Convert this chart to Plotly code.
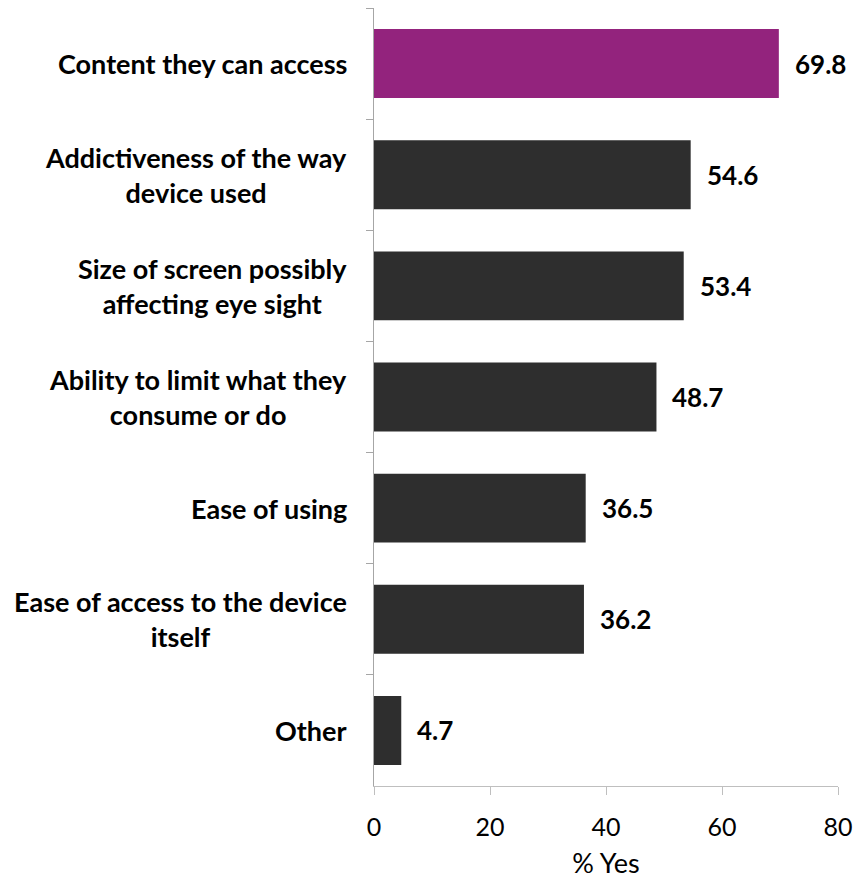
import plotly.graph_objects as go

categories = [
    "Content they can access",
    "Addictiveness of the way<br>device used",
    "Size of screen possibly<br>affecting eye sight",
    "Ability to limit what they<br>consume or do",
    "Ease of using",
    "Ease of access to the device<br>itself",
    "Other",
]
values = [69.8, 54.6, 53.4, 48.7, 36.5, 36.2, 4.7]
bar_colors = ["#93237D", "#2E2E2E", "#2E2E2E", "#2E2E2E", "#2E2E2E", "#2E2E2E", "#2E2E2E"]
x_ticks = [0, 20, 40, 60, 80]
x_title = "% Yes"

FONT = "Lato, 'Open Sans', sans-serif"

fig = go.Figure()
fig.add_trace(go.Bar(
    y=categories,
    x=values,
    orientation="h",
    marker=dict(color=bar_colors, line=dict(width=0)),
    hoverinfo="skip",
))

annotations = []
for c, v in zip(categories, values):
    annotations.append(dict(
        x=0, xref="paper", y=c, yref="y", text=f"<b>{c}</b>",
        xanchor="right", yanchor="middle", align="center", xshift=-25,
        showarrow=False, font=dict(family=FONT, size=27, color="#000000"),
    ))
    annotations.append(dict(
        x=v, xref="x", y=c, yref="y", text=f"<b>{v}</b>",
        xanchor="left", yanchor="middle", xshift=14,
        showarrow=False, font=dict(family=FONT, size=26, color="#000000"),
    ))

fig.update_layout(
    width=855, height=882,
    margin=dict(l=374, r=17, t=8, b=96),
    paper_bgcolor="white", plot_bgcolor="white",
    showlegend=False,
    bargap=0.38,
    annotations=annotations,
    font=dict(family=FONT, color="#000000"),
)
fig.update_xaxes(
    range=[0, 80], tickvals=x_ticks, showgrid=False, zeroline=False, automargin=False,
    showline=True, linecolor="#BFBFBF", linewidth=1,
    ticks="outside", ticklen=8, tickcolor="#BFBFBF", ticklabelstandoff=11,
    tickfont=dict(family=FONT, size=25, color="#000000"),
    title=dict(text=x_title, font=dict(family=FONT, size=27, color="#000000"), standoff=14),
)
fig.update_yaxes(
    autorange="reversed", showticklabels=False, showgrid=False, zeroline=False, automargin=False,
    showline=True, linecolor="#A6A6A6", linewidth=1,
    ticks="outside", ticklen=7, tickcolor="#A6A6A6", tickson="boundaries",
)

fig.write_html(
    "out.html",
    config={"displayModeBar": False},
    post_script="document.body.style.margin='0';document.body.style.overflow='hidden';",
)
